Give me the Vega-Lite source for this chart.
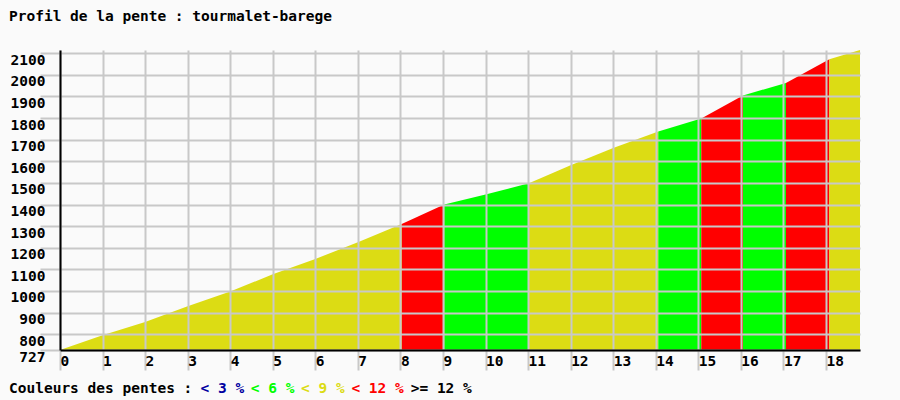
{
  "$schema": "https://vega.github.io/schema/vega-lite/v6.json",
  "autosize": "none",
  "padding": {"left": 60, "top": 50, "right": 40, "bottom": 50},
  "width": 800,
  "height": 300,
  "background": "#fafafa",
  "config": {
    "view": {"stroke": null},
    "font": "DejaVu Sans Mono"
  },
  "title": {
    "text": "Profil de la pente : tourmalet-barege",
    "anchor": "start",
    "frame": "group",
    "font": "DejaVu Sans Mono",
    "fontSize": 14.5,
    "fontWeight": "bold",
    "color": "#000000",
    "dx": -51,
    "offset": 26
  },
  "data": {
    "values": [
      {"seg": 1, "pente": "< 9 %", "km": 0, "elev": 727},
      {"seg": 1, "pente": "< 9 %", "km": 1, "elev": 795},
      {"seg": 1, "pente": "< 9 %", "km": 2, "elev": 856},
      {"seg": 1, "pente": "< 9 %", "km": 3, "elev": 929},
      {"seg": 1, "pente": "< 9 %", "km": 4, "elev": 998},
      {"seg": 1, "pente": "< 9 %", "km": 5, "elev": 1077},
      {"seg": 1, "pente": "< 9 %", "km": 6, "elev": 1148},
      {"seg": 1, "pente": "< 9 %", "km": 7, "elev": 1226},
      {"seg": 1, "pente": "< 9 %", "km": 8.03, "elev": 1310},
      {"seg": 2, "pente": "< 12 %", "km": 8.03, "elev": 1310},
      {"seg": 2, "pente": "< 12 %", "km": 9.03, "elev": 1400},
      {"seg": 3, "pente": "< 6 %", "km": 9.03, "elev": 1400},
      {"seg": 3, "pente": "< 6 %", "km": 10, "elev": 1447},
      {"seg": 3, "pente": "< 6 %", "km": 11.02, "elev": 1498},
      {"seg": 4, "pente": "< 9 %", "km": 11.02, "elev": 1498},
      {"seg": 4, "pente": "< 9 %", "km": 12, "elev": 1582},
      {"seg": 4, "pente": "< 9 %", "km": 13, "elev": 1662},
      {"seg": 4, "pente": "< 9 %", "km": 14.06, "elev": 1738},
      {"seg": 5, "pente": "< 6 %", "km": 14.06, "elev": 1738},
      {"seg": 5, "pente": "< 6 %", "km": 15.07, "elev": 1798},
      {"seg": 6, "pente": "< 12 %", "km": 15.07, "elev": 1798},
      {"seg": 6, "pente": "< 12 %", "km": 16.05, "elev": 1905},
      {"seg": 7, "pente": "< 6 %", "km": 16.05, "elev": 1905},
      {"seg": 7, "pente": "< 6 %", "km": 17.06, "elev": 1962},
      {"seg": 8, "pente": "< 12 %", "km": 17.06, "elev": 1962},
      {"seg": 8, "pente": "< 12 %", "km": 18.08, "elev": 2072},
      {"seg": 9, "pente": "< 9 %", "km": 18.08, "elev": 2072},
      {"seg": 9, "pente": "< 9 %", "km": 18.8, "elev": 2115}
    ]
  },
  "mark": {"type": "area", "interpolate": "linear", "clip": true},
  "encoding": {
    "x": {
      "field": "km",
      "type": "quantitative",
      "scale": {"domain": [0, 18.8], "nice": false, "zero": false},
      "axis": {
        "title": null,
        "values": [0, 1, 2, 3, 4, 5, 6, 7, 8, 9, 10, 11, 12, 13, 14, 15, 16, 17, 18],
        "format": "d",
        "grid": true,
        "gridColor": "#c8c8c8",
        "gridWidth": 2,
        "gridOpacity": 1,
        "tickSize": 20,
        "tickColor": "#c8c8c8",
        "tickWidth": 2,
        "domainColor": "#000000",
        "domainWidth": 2,
        "labelAlign": "left",
        "labelBaseline": "top",
        "labelPadding": -16,
        "labelDx": 4,
        "labelFlush": false,
        "labelOverlap": false,
        "labelBound": false,
        "labelFont": "DejaVu Sans Mono",
        "labelFontSize": 14.5,
        "labelFontWeight": "bold",
        "labelColor": "#000000",
        "zindex": 1
      }
    },
    "y": {
      "field": "elev",
      "type": "quantitative",
      "stack": null,
      "scale": {"domain": [727, 2115], "nice": false, "zero": false},
      "axis": {
        "title": null,
        "values": [727, 800, 900, 1000, 1100, 1200, 1300, 1400, 1500, 1600, 1700, 1800, 1900, 2000, 2100],
        "format": "d",
        "grid": true,
        "gridColor": "#c8c8c8",
        "gridWidth": 2,
        "gridOpacity": 1,
        "tickSize": 20,
        "tickColor": "#c8c8c8",
        "tickWidth": 2,
        "domainColor": "#000000",
        "domainWidth": 2,
        "labelAlign": "right",
        "labelBaseline": "top",
        "labelPadding": -5,
        "labelDy": 2,
        "labelFlush": false,
        "labelOverlap": false,
        "labelBound": false,
        "labelFont": "DejaVu Sans Mono",
        "labelFontSize": 14.5,
        "labelFontWeight": "bold",
        "labelColor": "#000000",
        "zindex": 1
      }
    },
    "y2": {"datum": 727},
    "detail": {"field": "seg", "type": "nominal"},
    "color": {
      "field": "pente",
      "type": "nominal",
      "scale": {
        "domain": ["< 3 %", "< 6 %", "< 9 %", "< 12 %", ">= 12 %"],
        "range": ["#0000a0", "#00ff00", "#dcdc14", "#ff0000", "#000000"]
      },
      "legend": {
        "orient": "none",
        "legendX": -51,
        "legendY": 332,
        "direction": "horizontal",
        "title": "Couleurs des pentes :",
        "titleOrient": "left",
        "titleLimit": 500,
        "titleFont": "DejaVu Sans Mono",
        "titleFontSize": 14.5,
        "titleFontWeight": "bold",
        "titleColor": "#000000",
        "titlePadding": 7.5,
        "labelFont": "DejaVu Sans Mono",
        "labelFontSize": 14.5,
        "labelFontWeight": "bold",
        "labelLimit": 200,
        "symbolSize": 0.0001,
        "symbolStrokeWidth": 0.0001,
        "symbolOpacity": 0,
        "labelOffset": -14.5,
        "columnPadding": 6.3,
        "padding": 0,
        "labelExpr": "datum.label == '< 12 %' ? '< 12 %\u00a0' : datum.label",
        "encode": {
          "labels": {"update": {"fill": {"scale": "color", "field": "value"}}}
        }
      }
    }
  }
}
